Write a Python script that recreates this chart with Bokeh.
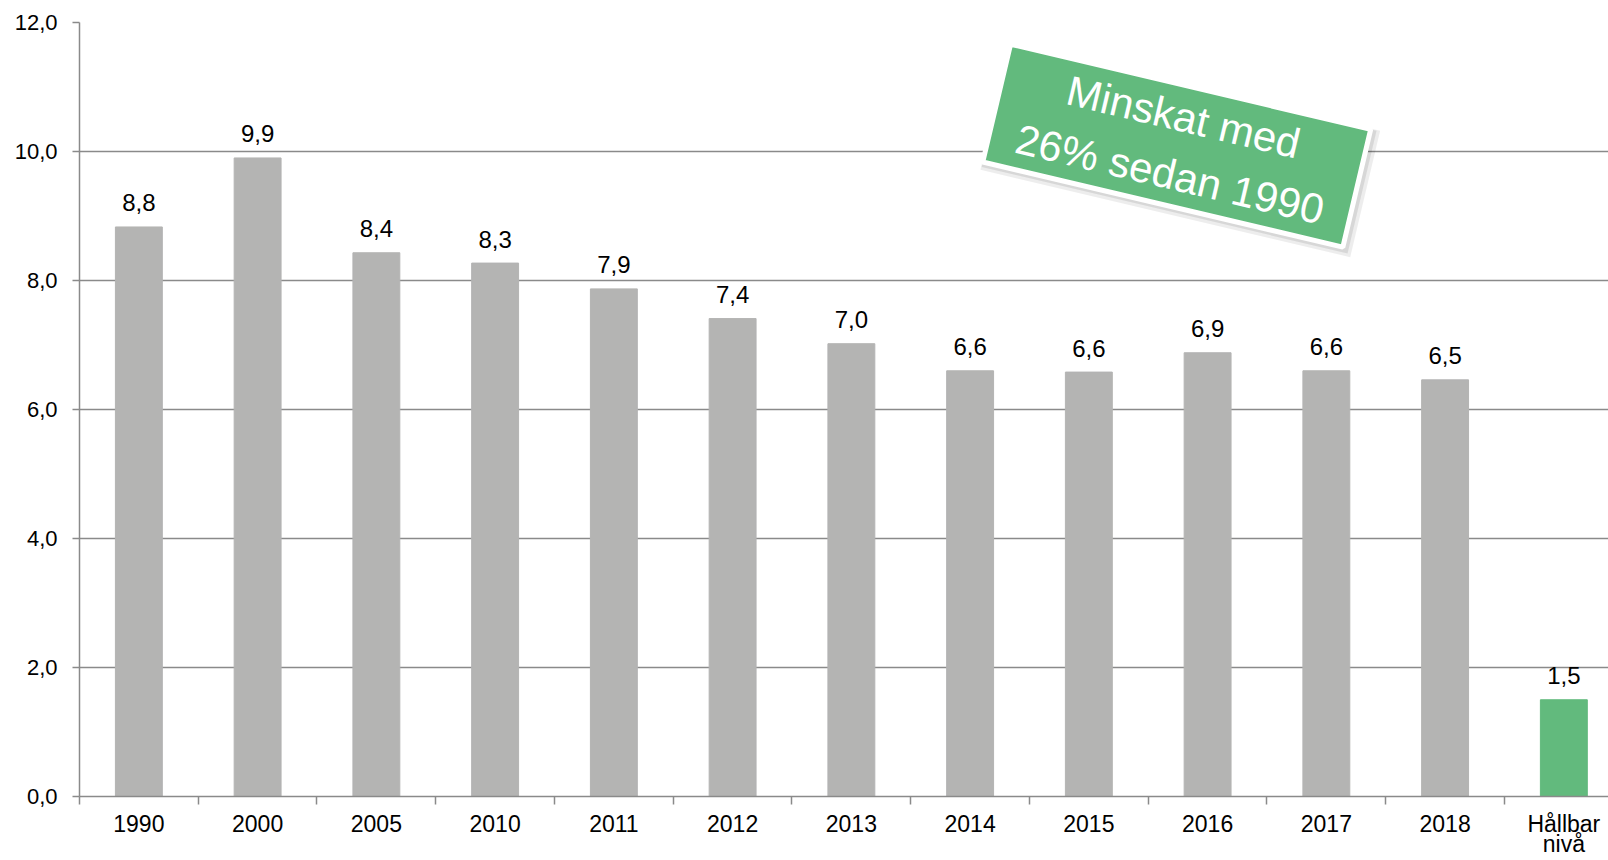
from bokeh.plotting import figure
from bokeh.models import Range1d, FixedTicker, CustomJSTickFormatter, ColumnDataSource
from bokeh.core.properties import value
from bokeh.embed import file_html
from bokeh.resources import INLINE

# ---- data ----
categories = ["1990", "2000", "2005", "2010", "2011", "2012", "2013", "2014",
              "2015", "2016", "2017", "2018", "Hållbar\nnivå"]
values = [8.83, 9.90, 8.43, 8.27, 7.87, 7.41, 7.02, 6.60, 6.58, 6.88, 6.60, 6.46, 1.50]
value_labels = ["8,8", "9,9", "8,4", "8,3", "7,9", "7,4", "7,0", "6,6", "6,6",
                "6,9", "6,6", "6,5", "1,5"]
y_ticks = [0, 2, 4, 6, 8, 10, 12]
annotation_text = "Minskat med\n26% sedan 1990"

# ---- styles ----
GREY = "#b4b4b3"
GREEN = "#62ba7d"
AXIS_GREY = "#8a8a8a"
FONT = "Liberation Sans"

n = len(categories)
xs = [i + 0.5 for i in range(n)]
colors = [GREY] * (n - 1) + [GREEN]
src = ColumnDataSource(dict(x=xs, top=values, color=colors, label=value_labels))

p = figure(width=1608, height=860, output_backend="svg", toolbar_location=None,
           x_range=Range1d(0, 12.876), y_range=Range1d(0, 12),
           min_border_left=79, min_border_right=0, min_border_top=22,
           min_border_bottom=62)
p.outline_line_color = None
p.background_fill_color = "white"
p.border_fill_color = "white"

p.vbar(x="x", top="top", bottom=0, width=0.395, color="color", source=src)
p.text(x="x", y="top", text="label", source=src, text_align="center",
       text_baseline="alphabetic", y_offset=-24, text_font=value(FONT),
       text_font_size="24px", text_color="#000000")

# annotation box (rotated)
ax_, ay_ = 9.24, 10.09
ang = -13.3
p.rect(x=[ax_ + 0.03], y=[ay_ - 0.07], width=380, height=130, width_units="screen",
       height_units="screen", angle=ang, angle_units="deg",
       fill_color="#000000", fill_alpha=0.07, line_color=None)
p.rect(x=[ax_ + 0.02], y=[ay_ - 0.05], width=376, height=126, width_units="screen",
       height_units="screen", angle=ang, angle_units="deg",
       fill_color="#000000", fill_alpha=0.09, line_color=None)
p.rect(x=[ax_], y=[ay_], width=370, height=121, width_units="screen",
       height_units="screen", angle=ang, angle_units="deg",
       fill_color=GREEN, line_color="white", line_width=5)
p.text(x=[ax_], y=[ay_], text=[annotation_text], angle=ang, angle_units="deg",
       text_align="center", text_baseline="middle", text_font=value(FONT),
       text_font_size="42px", text_color="white", text_line_height=1.25)

# grid
p.xgrid.grid_line_color = None
p.ygrid.grid_line_color = AXIS_GREY
p.ygrid.grid_line_width = 1.5

# y axis
p.yaxis.ticker = FixedTicker(ticks=y_ticks)
p.yaxis.formatter = CustomJSTickFormatter(code="return tick.toFixed(1).replace('.', ',');")
p.yaxis.axis_line_color = AXIS_GREY
p.yaxis.axis_line_width = 1.5
p.yaxis.major_tick_line_color = AXIS_GREY
p.yaxis.major_tick_line_width = 1.5
p.yaxis.major_tick_out = 7
p.yaxis.major_tick_in = 0
p.yaxis.minor_tick_line_color = None
p.yaxis.major_label_standoff = 15
p.yaxis.major_label_text_font = FONT
p.yaxis.major_label_text_font_size = "22px"
p.yaxis.major_label_text_color = "#000000"

# x axis
p.xaxis.ticker = FixedTicker(ticks=xs, minor_ticks=list(range(n + 1)))
p.xaxis.formatter = CustomJSTickFormatter(args=dict(labels=categories),
                                          code="return labels[Math.floor(tick)];")
p.xaxis.axis_line_color = AXIS_GREY
p.xaxis.axis_line_width = 1.5
p.xaxis.major_tick_out = 0
p.xaxis.major_tick_in = 0
p.xaxis.minor_tick_out = 8
p.xaxis.minor_tick_in = 0
p.xaxis.minor_tick_line_color = AXIS_GREY
p.xaxis.minor_tick_line_width = 1.5
p.xaxis.major_label_standoff = 6
p.xaxis.major_label_text_font = FONT
p.xaxis.major_label_text_font_size = "23px"
p.xaxis.major_label_text_color = "#000000"
p.xaxis.major_label_text_line_height = 0.8

open("out.html", "w").write(file_html(p, INLINE))
